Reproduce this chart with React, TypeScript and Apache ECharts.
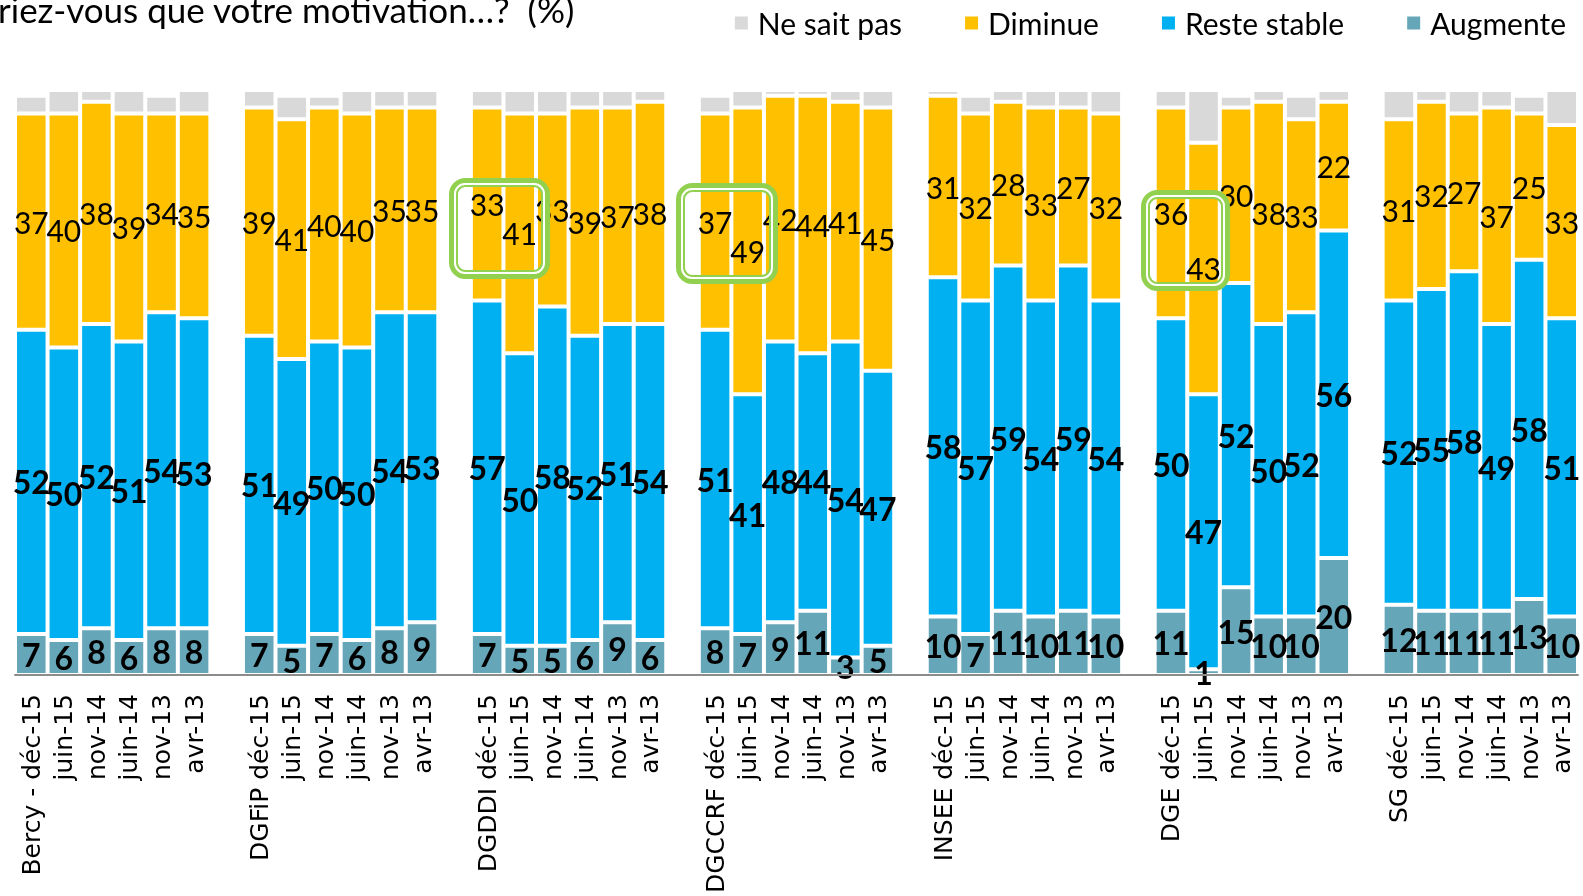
import React, { useEffect, useRef } from 'react';
import * as echarts from 'echarts';

const groupNames = ['Bercy - ', 'DGFiP ', 'DGDDI ', 'DGCCRF ', 'INSEE ', 'DGE ', 'SG '];
const waves = ['déc-15', 'juin-15', 'nov-14', 'juin-14', 'nov-13', 'avr-13'];

const augmente = [7, 6, 8, 6, 8, 8, 7, 5, 7, 6, 8, 9, 7, 5, 5, 6, 9, 6, 8, 7, 9, 11, 3, 5, 10, 7, 11, 10, 11, 10, 11, 1, 15, 10, 10, 20, 12, 11, 11, 11, 13, 10];
const resteStable = [52, 50, 52, 51, 54, 53, 51, 49, 50, 50, 54, 53, 57, 50, 58, 52, 51, 54, 51, 41, 48, 44, 54, 47, 58, 57, 59, 54, 59, 54, 50, 47, 52, 50, 52, 56, 52, 55, 58, 49, 58, 51];
const diminue = [37, 40, 38, 39, 34, 35, 39, 41, 40, 40, 35, 35, 33, 41, 33, 39, 37, 38, 37, 49, 42, 44, 41, 45, 31, 32, 28, 33, 27, 32, 36, 43, 30, 38, 33, 22, 31, 32, 27, 37, 25, 33];
const neSaitPas = [3, 4, 2, 4, 3, 4, 3, 4, 2, 4, 3, 3, 3, 4, 4, 3, 3, 2, 3, 3, 1, 1, 2, 3, 1, 3, 2, 3, 3, 4, 3, 9, 2, 2, 4, 2, 5, 2, 4, 3, 3, 6];

const seriesNames = ['Augmente', 'Reste stable', 'Diminue', 'Ne sait pas'];
const legendOrder = ['Ne sait pas', 'Diminue', 'Reste stable', 'Augmente'];
const colors = ['#66A6B9', '#00B0F0', '#FFC000', '#D9D9D9'];

const titleText = 'riez-vous que votre motivation…?  (%)';

// highlight boxes [x, y, w, h]
const boxes = [
  [449, 178, 101, 101],
  [676, 183, 102, 101],
  [1141, 190, 89, 101],
];

function buildCategories() {
  const cats: string[] = [];
  groupNames.forEach((g, gi) => {
    waves.forEach((w, wi) => cats.push(wi === 0 ? g + w : w));
    if (gi < groupNames.length - 1) cats.push('');
  });
  return cats;
}

function spread(values: number[]) {
  const out: (number | string)[] = [];
  groupNames.forEach((_, gi) => {
    for (let wi = 0; wi < waves.length; wi++) out.push(values[gi * waves.length + wi]);
    if (gi < groupNames.length - 1) out.push('-');
  });
  return out;
}

export default function App() {
  const ref = useRef<HTMLDivElement>(null);
  useEffect(() => {
    const chart = echarts.init(ref.current!, null, { renderer: 'svg' });
    const allValues = [augmente, resteStable, diminue, neSaitPas];
    const green = '#92D050';
    const boxGraphics: any[] = [];
    boxes.forEach(([x, y, w, h]) => {
      boxGraphics.push({
        type: 'rect', z: 100,
        shape: { x: x + 4.5, y: y + 4.5, width: w - 9, height: h - 9, r: 12 },
        style: { fill: 'none', stroke: green, lineWidth: 9 },
      });
      boxGraphics.push({
        type: 'rect', z: 101,
        shape: { x: x + 6, y: y + 6, width: w - 12, height: h - 12, r: 10 },
        style: { fill: 'none', stroke: '#fff', lineWidth: 2 },
      });
    });
    chart.setOption({
      animation: false,
      grid: { left: 15, right: 5, top: 90, bottom: 221, containLabel: false, outerBoundsMode: 'none' },
      legend: {
        data: legendOrder,
        right: 12,
        top: 3,
        itemWidth: 15,
        itemHeight: 15,
        itemGap: 61,
        icon: 'rect',
        textStyle: { fontFamily: 'Lato', fontSize: 30, color: '#000', padding: [0, 0, 0, 4] },
      },
      xAxis: {
        type: 'category',
        z: 10,
        data: buildCategories(),
        axisLine: { lineStyle: { color: '#8C8C8C', width: 2 } },
        axisTick: { show: false },
        axisLabel: { interval: 0, rotate: 90, fontFamily: 'DejaVu Sans', fontSize: 25, color: '#000', margin: 19 },
      },
      yAxis: { type: 'value', min: 0, max: 100, show: false, splitLine: { show: false } },
      series: seriesNames.map((name, i) => ({
        name,
        type: 'bar',
        stack: 'total',
        barCategoryGap: '0%',
        data: spread(allValues[i]),
        itemStyle: { color: colors[i], borderColor: '#fff', borderWidth: 2 },
        label: {
          show: i < 3,
          position: 'inside',
          fontFamily: 'Lato',
          fontSize: i < 2 ? 32 : 30,
          fontWeight: i < 2 ? 'bold' : 'normal',
          color: '#000',
        },
      })),
      graphic: [
        {
          type: 'text', x: -2, y: -9, z: 100,
          style: { text: titleText, font: '35px Lato', fill: '#000' },
        },
        ...boxGraphics,
      ],
    });
    return () => chart.dispose();
  }, []);
  return <div ref={ref} style={{ position: 'fixed', left: 0, top: 0, width: 1583, height: 896 }} />;
}
